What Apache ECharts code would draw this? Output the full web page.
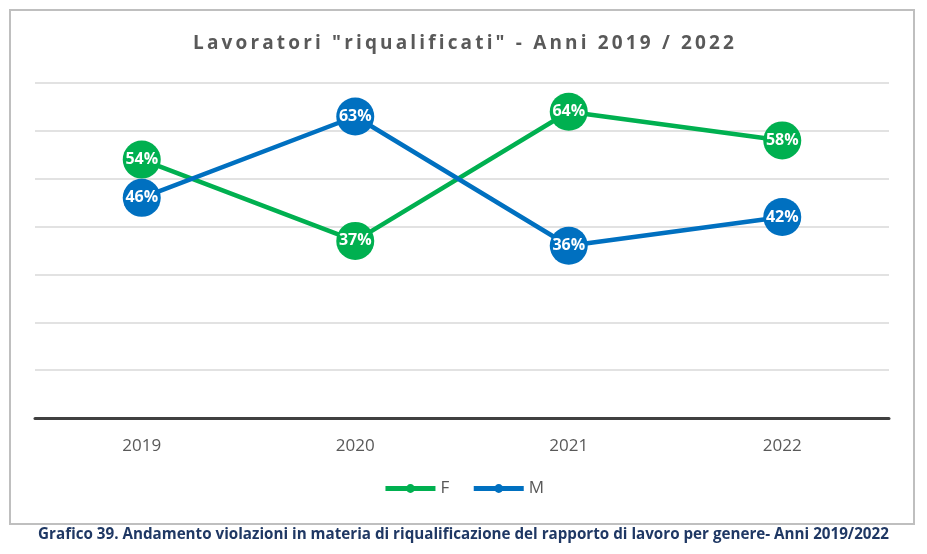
<!DOCTYPE html>
<html>
<head>
<meta charset="utf-8">
<script src="https://cdn.jsdelivr.net/npm/echarts@6/dist/echarts.min.js"></script>
<style>html,body{margin:0;padding:0;background:#fff}#c{width:927px;height:554px}</style>
</head>
<body>
<div id="c"></div>
<script>
const categories = ['2019', '2020', '2021', '2022'];
const seriesF = [54, 37, 64, 58];
const seriesM = [46, 63, 36, 42];
const yTicks = [0, 10, 20, 30, 40, 50, 60, 70];

const chart = echarts.init(document.getElementById('c'));
const font = "'Open Sans', sans-serif";
const titleText = 'Lavoratori "riqualificati" - Anni 2019 / 2022';
const spaced = titleText.split('').join('\u2009').replace(/\u2009 \u2009/g, '\u2009\u2009 ');
function lineSeries(name, data, color) {
  return {
    name: name, type: 'line', data: data,
    symbol: 'circle', symbolSize: 38,
    lineStyle: { color: color, width: 4.5 },
    itemStyle: { color: color },
    label: { show: true, position: 'inside', formatter: '{c}%', color: '#fff', fontWeight: 'bold', fontSize: 16, fontFamily: font },
    emphasis: { disabled: true }
  };
}
chart.setOption({
  animation: false,
  title: {
    text: spaced,
    left: 'center', top: 29,
    textStyle: { color: '#595959', fontSize: 19, fontWeight: 'bold', fontFamily: font }
  },
  graphic: [
    { type: 'rect', shape: { x: 10, y: 10, width: 904, height: 514 }, style: { fill: 'none', stroke: '#bfbfbf', lineWidth: 2 }, z: -1 },
    { type: 'text', left: 'center', top: 527, style: { text: 'Grafico 39. Andamento violazioni in materia di riqualificazione del rapporto di lavoro per genere- Anni 2019/2022', fill: '#1f3864', font: "bold 15.2px 'Open Sans', sans-serif" } }
  ],
  legend: {
    bottom: 52, left: 'center',
    itemWidth: 50, itemHeight: 11, itemGap: 22,
    lineStyle: { width: 5 },
    textStyle: { color: '#595959', fontSize: 17, fontFamily: font },
    data: ['F', 'M']
  },
  grid: { left: 35, right: 38, top: 83, bottom: 136 },
  xAxis: {
    type: 'category', data: categories, boundaryGap: true,
    axisLine: { lineStyle: { color: '#404040', width: 3 } },
    axisTick: { show: false },
    axisLabel: { color: '#595959', fontSize: 17, margin: 20, fontFamily: font }
  },
  yAxis: {
    type: 'value', min: yTicks[0], max: yTicks[yTicks.length - 1], interval: 10,
    axisLabel: { show: false }, axisLine: { show: false }, axisTick: { show: false },
    splitLine: { lineStyle: { color: '#d9d9d9', width: 1.5 } }
  },
  series: [lineSeries('F', seriesF, '#00b050'), lineSeries('M', seriesM, '#0070c0')]
});
</script>
</body>
</html>
